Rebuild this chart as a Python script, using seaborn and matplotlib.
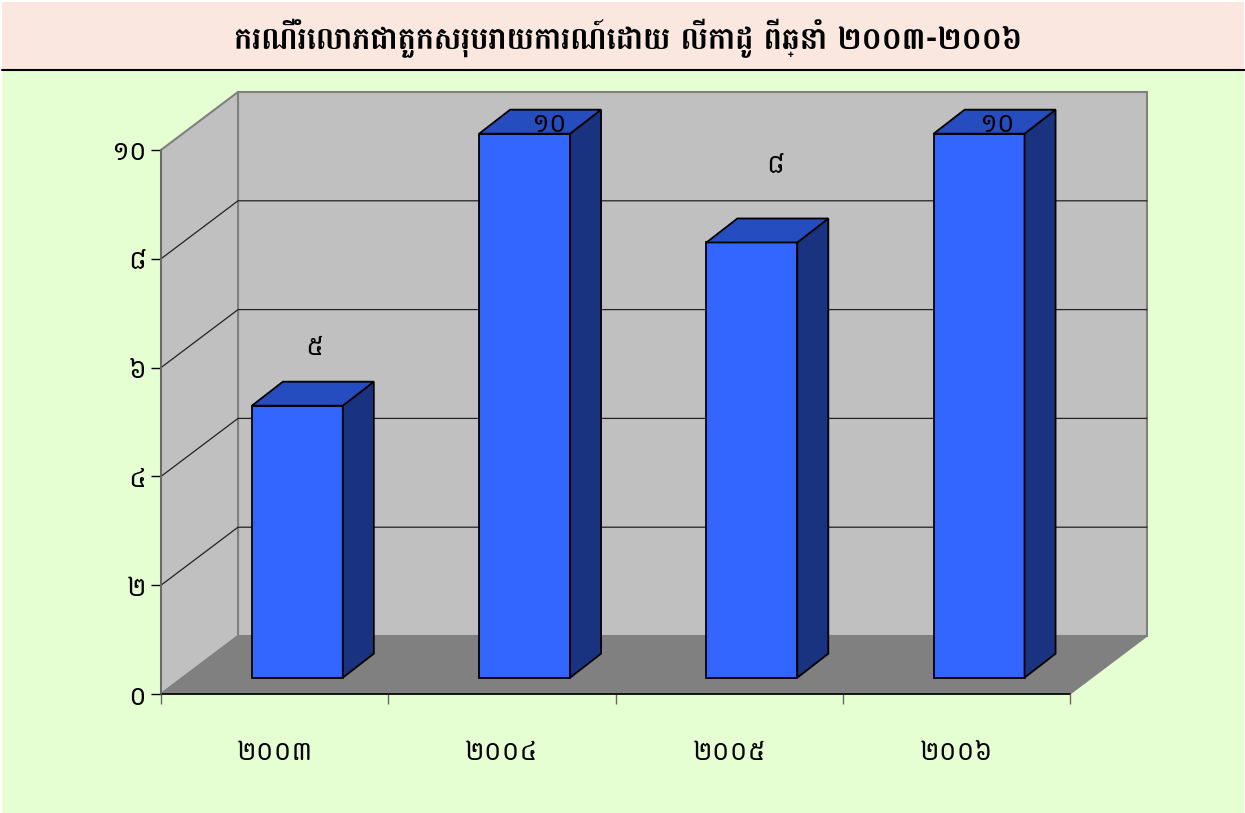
import re
import matplotlib
matplotlib.use("Agg")
import matplotlib.pyplot as plt
from matplotlib.patches import Rectangle, Polygon
import seaborn as sns

years = ["២០០៣", "២០០៤", "២០០៥", "២០០៦"]
counts = [5, 10, 8, 10]
count_labels = ["៥", "១០", "៨", "១០"]
y_ticks = [0, 2, 4, 6, 8, 10]
y_tick_labels = ["០", "២", "៤", "៦", "៨", "១០"]
title = "ករណីរំលោភជាតួកសរុបរាយការណ៍ដោយ លីកាដូ ពីឆ្នាំ ២០០៣-២០០៦"

sns.set_style("white")
plt.rcParams["font.family"] = ["Battambang", "DejaVu Sans"]

W, H = 1245, 813
fig = plt.figure(figsize=(W / 100, H / 100), dpi=100, facecolor="white")

# background and title band
fig.add_artist(Rectangle((2 / W, 0), (W - 3) / W, (H - 2) / H, transform=fig.transFigure,
                         fc="#E6FFD2", ec="none", zorder=-3))
fig.add_artist(Rectangle((2 / W, (H - 69) / H), (W - 3) / W, 67 / H, transform=fig.transFigure,
                         fc="#FAE8E0", ec="none", zorder=-2))
fig.add_artist(plt.Line2D([2 / W, 1], [(H - 70) / H] * 2, color="black", lw=1.5, zorder=-1))
# no shaping in matplotlib: the vowel ោ loses its left part, so write it as េ + consonant + ា
title_drawn = re.sub("(.)ោ", "េ\\1ា", title)
fig.text(628 / W, (H - 38) / H, title_drawn, ha="center", va="center", fontsize=22, fontweight="bold", color="black")

ax = fig.add_axes([161 / W, (H - 694) / H, 909 / W, 544 / H])
ax.patch.set_visible(False)

# one category is 227 px wide, one y unit is 54.4 px
wall_dx, wall_dy = 77 / 227.25, 58 / 54.4
bar_dx, bar_dy = 31 / 227.25, 24 / 54.4
bar_shift_x, bar_shift_y = 0.1, 0.3

sns.barplot(x=years, y=counts, ax=ax, color="#3366FF", saturation=1, width=0.4,
            edgecolor="black", linewidth=1.3, zorder=5)
ax.set_xlim(-0.5, 3.5)
ax.set_ylim(0, 10)

x0, x1 = -0.5, 3.5
wall = "#C0C0C0"
grey = "#808080"

bars = list(ax.patches)

# back wall, left wall, floor
ax.add_patch(Rectangle((x0 + wall_dx, wall_dy), 4, 10, fc=wall, ec=grey, lw=1.5, clip_on=False, zorder=1))
ax.add_patch(Polygon([(x0, 0), (x0 + wall_dx, wall_dy), (x0 + wall_dx, 10 + wall_dy), (x0, 10)],
                     fc=wall, ec=grey, lw=1.5, clip_on=False, zorder=1))
ax.add_patch(Polygon([(x0, 0), (x0 + wall_dx, wall_dy), (x1 + wall_dx, wall_dy), (x1, 0)],
                     fc=grey, ec=grey, lw=1, clip_on=False, zorder=2))

# gridlines run along the left wall and across the back wall
for t in y_ticks[1:-1]:
    ax.plot([x0, x0 + wall_dx, x1 + wall_dx], [t, t + wall_dy, t + wall_dy],
            color="#222222", lw=0.9, clip_on=False, zorder=3)

# move the seaborn bars off the floor edge and add their top and side faces
for p in bars:
    p.set_x(p.get_x() + bar_shift_x)
    p.set_y(bar_shift_y)
    p.set_clip_on(False)
    l, r = p.get_x(), p.get_x() + p.get_width()
    b, t = p.get_y(), p.get_y() + p.get_height()
    ax.add_patch(Polygon([(r, b), (r + bar_dx, b + bar_dy), (r + bar_dx, t + bar_dy), (r, t)],
                         fc="#1A3380", ec="black", lw=1.3, clip_on=False, zorder=5))
    ax.add_patch(Polygon([(l, t), (l + bar_dx, t + bar_dy), (r + bar_dx, t + bar_dy), (r, t)],
                         fc="#264DBF", ec="black", lw=1.3, clip_on=False, zorder=5))

# value labels sit at odd heights in the original, offsets in px from the bar top
label_offsets = [(17, 58), (24, 9), (23, 77), (18, 9)]
for i, (txt, v) in enumerate(zip(count_labels, counts)):
    dx, dy = label_offsets[i]
    ax.annotate(txt, (i + bar_shift_x, v + bar_shift_y), xytext=(dx, dy), textcoords="offset pixels",
                ha="center", va="center", fontsize=19.5, color="black", zorder=7, annotation_clip=False)

for s in ax.spines.values():
    s.set_visible(False)
ax.plot([x0, x1], [0, 0], color="black", lw=1.2, clip_on=False, zorder=4)
ax.plot([x0, x0], [0, 10], color="#666666", lw=1.2, clip_on=False, zorder=4)

ax.set_yticks(y_ticks)
ax.set_yticklabels(y_tick_labels, fontsize=19.5)
ax.tick_params(axis="y", left=True, length=7.5, width=1, color="black", pad=3, labelcolor="black")
ax.set_xticks(range(len(years)))
ax.set_xticklabels(years, fontsize=19.5)
ax.set_xticks([-0.5, 0.5, 1.5, 2.5, 3.5], minor=True)
ax.tick_params(axis="x", which="major", bottom=False, pad=29, labelcolor="black")
ax.tick_params(axis="x", which="minor", bottom=True, length=7.5, width=1, color="#666666")
ax.set_xlabel("")
ax.set_ylabel("")

fig.savefig("out.png", dpi=100, facecolor=fig.get_facecolor())
